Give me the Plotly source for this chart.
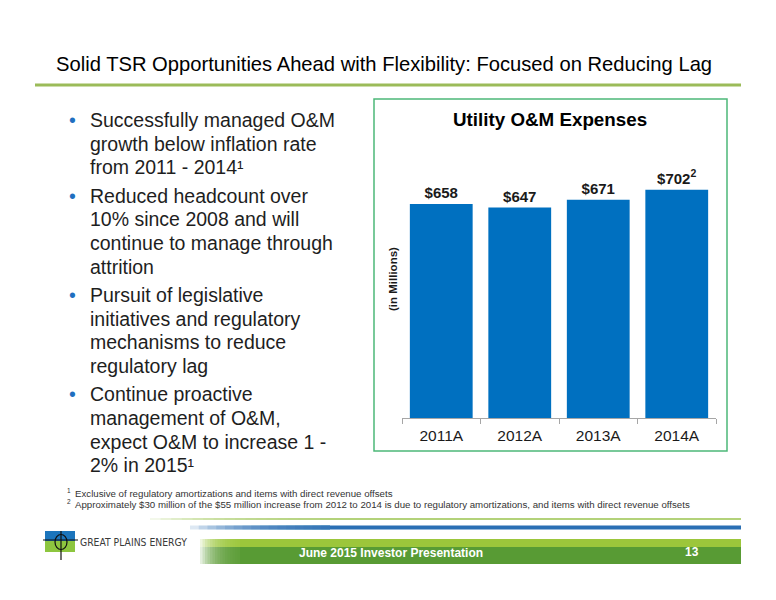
import plotly.graph_objects as go

# chart data
years = ['2011A', '2012A', '2013A', '2014A']
om_expenses = [658, 647, 671, 702]
bar_labels = ['$658', '$647', '$671', '$702<sup>2</sup>']

slide_title = 'Solid TSR Opportunities Ahead with Flexibility: Focused on Reducing Lag'
chart_title = 'Utility O&M Expenses'
y_title = '(in Millions)'

bullets = [
    ['Successfully managed O&M', 'growth below inflation rate', 'from 2011 - 2014¹'],
    ['Reduced headcount over', '10% since 2008 and will', 'continue to manage through', 'attrition'],
    ['Pursuit of legislative', 'initiatives and regulatory', 'mechanisms to reduce', 'regulatory lag'],
    ['Continue proactive', 'management of O&M,', 'expect O&M to increase 1 -', '2% in 2015¹'],
]

footnote_marks = ['1', '2']
footnote_texts = [
    'Exclusive of regulatory amortizations and items with direct revenue offsets',
    'Approximately $30 million of the $55 million increase from 2012 to 2014 is due to regulatory amortizations, and items with direct revenue offsets',
]
footer_text = 'June 2015 Investor Presentation'
page_no = '13'
company = 'GREAT PLAINS ENERGY'

W, H = 776, 600
FONT = 'Liberation Sans, Arial, sans-serif'
BAR_BLUE = '#0070C0'


# pixel -> paper helpers
def px(x):
    return x / W


def py(y):
    return 1 - y / H


def rect(x0, y0, x1, y1, color, opacity=1.0):
    return dict(type='rect', xref='paper', yref='paper',
                x0=px(x0), x1=px(x1), y0=py(y1), y1=py(y0),
                fillcolor=color, opacity=opacity, line=dict(width=0), layer='below')


def fade_band(x0, x_full, x1, y0, y1, color, steps=16):
    # left-to-right fade: stacked translucent rects, then a solid run
    out = []
    step = (x_full - x0) / steps
    for i in range(steps):
        out.append(rect(x0 + i * step, y0, x_full, y1, color, 0.16))
    out.append(rect(x_full, y0, x1, y1, color))
    return out


fig = go.Figure()
fig.add_trace(go.Bar(
    x=years, y=om_expenses,
    marker=dict(color=BAR_BLUE, line=dict(width=0)),
    text=bar_labels, textposition='outside', cliponaxis=False,
    textfont=dict(family=FONT, size=15, color='#1a1a1a', weight='bold'),
    hoverinfo='skip',
))

shapes = []
# title rule and chart frame
shapes.append(dict(type='line', xref='paper', yref='paper', x0=px(35), x1=px(741), y0=py(85), y1=py(85),
                   line=dict(color='#9bbb59', width=3)))
shapes.append(dict(type='rect', xref='paper', yref='paper', x0=px(374), x1=px(727), y0=py(451), y1=py(99),
                   line=dict(color='#4cb878', width=1.5), fillcolor='rgba(0,0,0,0)'))

# footer bands
shapes += fade_band(150, 320, 741, 518, 520, '#b3d27a')
shapes += fade_band(190, 330, 741, 525.5, 529.5, '#2a6fb4')
shapes += fade_band(200, 240, 741, 539, 547, '#9cc63b')
shapes += fade_band(200, 240, 741, 547, 564, '#589b34')

# logo
shapes.append(rect(45, 531, 75, 541, '#1c75bc'))
shapes.append(rect(45, 541, 75, 552, '#8dc63f'))
shapes.append(dict(type='circle', xref='paper', yref='paper', x0=px(55), x1=px(67), y0=py(549.5), y1=py(534.5),
                   line=dict(color='#111', width=1.2)))
shapes.append(dict(type='line', xref='paper', yref='paper', x0=px(43), x1=px(78), y0=py(540), y1=py(540),
                   line=dict(color='#111', width=1.2)))
shapes.append(dict(type='line', xref='paper', yref='paper', x0=px(61), x1=px(61), y0=py(531), y1=py(560),
                   line=dict(color='#111', width=1.2)))

ann = []
ann.append(dict(text=slide_title, x=px(384), y=py(63.5), xanchor='center', yanchor='middle',
                font=dict(family=FONT, size=20.2, color='#000')))
ann.append(dict(text=chart_title, x=px(550), y=py(119), xanchor='center', yanchor='middle',
                font=dict(family=FONT, size=18.8, color='#000', weight='bold')))
ann.append(dict(text=y_title, x=px(393), y=py(279), xanchor='center', yanchor='middle', textangle=-90,
                font=dict(family=FONT, size=11.5, color='#1a1a1a', weight='bold')))

# bullet text, one annotation per line
y = 120
for lines in bullets:
    ann.append(dict(text='•', x=px(72), y=py(y), xanchor='center', yanchor='middle',
                    font=dict(family=FONT, size=19.5, color='#1f6fc0')))
    for line in lines:
        ann.append(dict(text=line, x=px(88), y=py(y), xanchor='left', yanchor='middle',
                        font=dict(family=FONT, size=19.5, color='#1e1e1e')))
        y += 23.7
    y += 4.5

for i, (mark, txt) in enumerate(zip(footnote_marks, footnote_texts)):
    yy = 493 + i * 11
    ann.append(dict(text=mark, x=px(69), y=py(yy - 2.5), xanchor='center', yanchor='middle',
                    font=dict(family=FONT, size=6.5, color='#333')))
    ann.append(dict(text=txt, x=px(73), y=py(yy), xanchor='left', yanchor='middle',
                    font=dict(family=FONT, size=9.7, color='#333')))

ann.append(dict(text=company, x=px(78), y=py(542), xanchor='left', yanchor='middle',
                font=dict(family='Liberation Sans Narrow, DejaVu Sans Condensed, sans-serif', size=10.3, color='#3a3a3a')))
ann.append(dict(text=footer_text, x=px(297), y=py(553), xanchor='left', yanchor='middle',
                font=dict(family=FONT, size=12, color='#fff', weight='bold')))
ann.append(dict(text=page_no, x=px(691.5), y=py(552), xanchor='center', yanchor='middle',
                font=dict(family=FONT, size=12, color='#fff', weight='bold')))

for a in ann:
    a.update(xref='paper', yref='paper', showarrow=False)

fig.update_layout(
    width=W, height=H, margin=dict(l=0, r=0, t=0, b=0),
    paper_bgcolor='white', plot_bgcolor='white',
    showlegend=False, bargap=0.2,
    shapes=shapes, annotations=ann,
    font=dict(family=FONT),
    xaxis=dict(domain=[px(402), px(716)], type='category', showgrid=False,
               showline=True, linecolor='#a6a6a6', linewidth=1,
               ticks='outside', tickson='boundaries', ticklen=5, tickcolor='#a6a6a6',
               ticklabelstandoff=3,
               tickfont=dict(family=FONT, size=15.5, color='#1a1a1a'), fixedrange=True),
    yaxis=dict(domain=[py(418), py(157.8)], range=[0, 800], visible=False, fixedrange=True),
)

fig.write_html('out.html', config={'displayModeBar': False},
               post_script="document.body.style.margin='0';")
